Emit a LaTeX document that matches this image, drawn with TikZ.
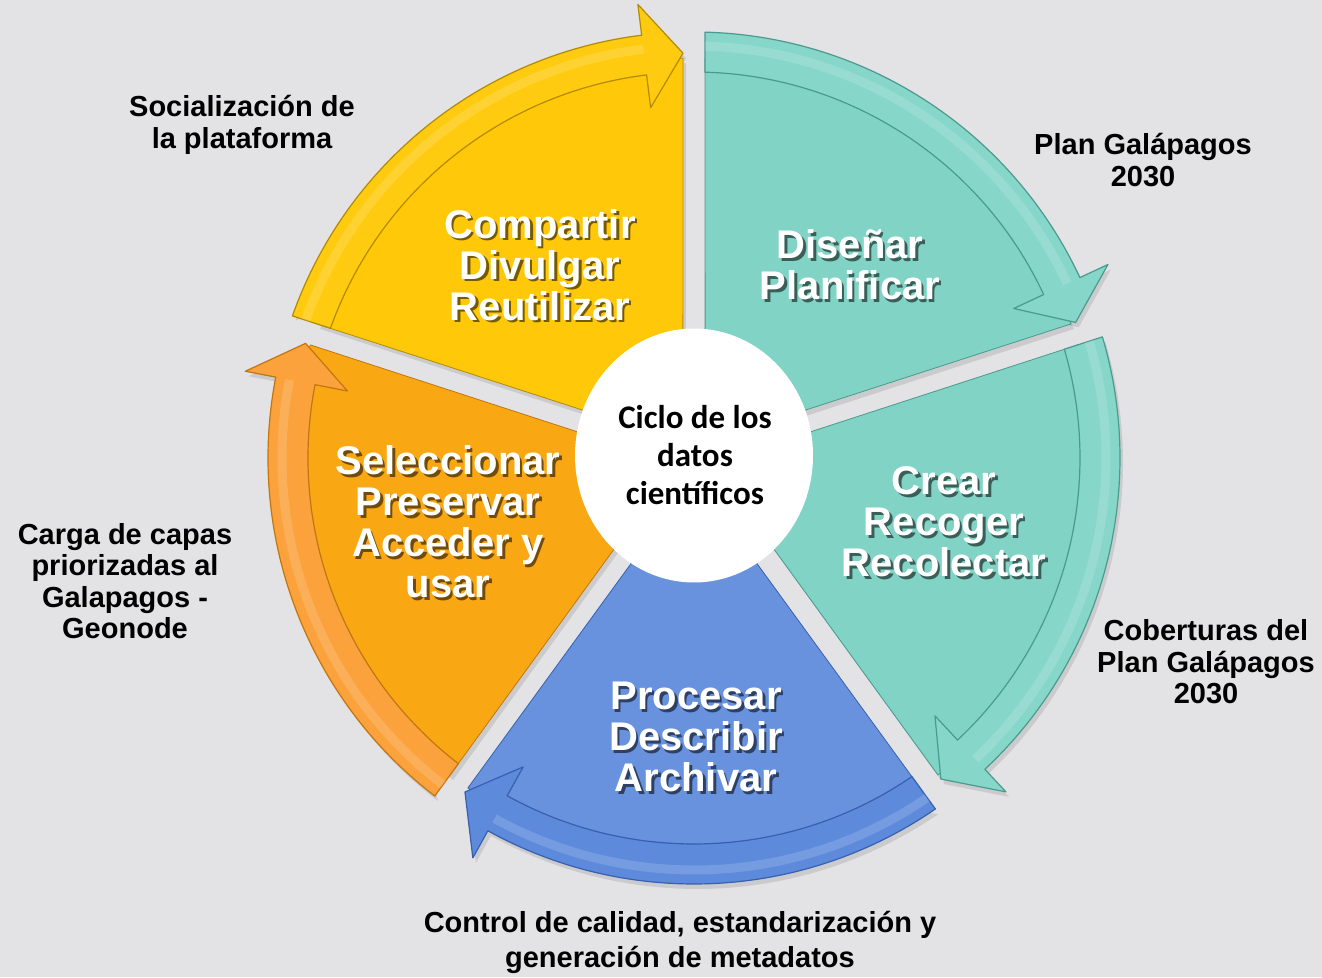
\documentclass[tikz,border=0pt]{standalone}
\usepackage{fontspec}
\setmainfont{Liberation Sans}
\newfontfamily\centrefont{Carlito}
\usetikzlibrary{calc}
\definecolor{bg}{HTML}{E3E3E5}
\definecolor{yBody}{HTML}{FFC808}
\definecolor{yBand}{HTML}{FFCB10}
\definecolor{yLine}{HTML}{B38A00}
\definecolor{tBody}{HTML}{80D3C5}
\definecolor{tBand}{HTML}{86D7CA}
\definecolor{tLine}{HTML}{4A9A8E}
\definecolor{bBody}{HTML}{6892DE}
\definecolor{bBand}{HTML}{5D8ADB}
\definecolor{bLine}{HTML}{3760AE}
\definecolor{oBody}{HTML}{F9A814}
\definecolor{oBand}{HTML}{FBA23C}
\definecolor{oLine}{HTML}{C27510}
\tikzset{
  seglabel/.style={align=center, text=white, font=\bfseries\fontsize{40}{41}\selectfont, inner sep=0pt},
  segshadow/.style={align=center, text=black, opacity=0.55, font=\bfseries\fontsize{40}{41}\selectfont, inner sep=0pt},
  sidelabel/.style={align=center, text=black, font=\bfseries\fontsize{29}{31.5}\selectfont, inner sep=0pt},
  centrelabel/.style={align=center, text=black, font=\centrefont\bfseries\fontsize{33}{38}\selectfont, inner sep=0pt}
}
% #1 head-end angle, #2 tail-end angle, #3 body, #4 band, #5 line
\newcommand\cycseg[5]{%
  \pgfmathsetmacro\bodyA{#1+asin(11/400)}%
  \pgfmathsetmacro\bodyB{#2-asin(11/400)}%
  \pgfmathsetmacro\tipA{#1+asin(11/405)}%
  \pgfmathsetmacro\headB{\tipA+5.5}%
  \pgfmathsetmacro\tailO{#2-asin(11/426)}%
  \pgfmathsetmacro\tailI{#2-asin(11/386)}%
  \pgfmathsetmacro\tailM{#2-asin(11/408)}%
  \pgfmathsetmacro\midA{(#1+#2)/2}%
  \fill[black,opacity=0.10,shift={(3pt,-5pt)}] (\midA:19pt) -- (\bodyA:400pt) arc[start angle=\bodyA, end angle=\bodyB, radius=400pt] -- cycle;
  \fill[black,opacity=0.10,shift={(3pt,-5pt)}] (\tailO:426pt) arc[start angle=\tailO, end angle=\headB, radius=426pt] -- (\headB:457pt) -- (\tipA:405pt) -- (\headB:353pt) -- cycle;
  \filldraw[fill=#3, draw=#5, line width=0.8pt, line join=round] (\midA:19pt) -- (\bodyA:400pt) arc[start angle=\bodyA, end angle=\bodyB, radius=400pt] -- cycle;
  \filldraw[fill=#4, draw=#5, line width=1.2pt, line join=round] (\tailO:426pt) arc[start angle=\tailO, end angle=\headB, radius=426pt] -- (\headB:457pt) -- (\tipA:405pt) -- (\headB:353pt) -- (\headB:386pt) arc[start angle=\headB, end angle=\tailI, radius=386pt] -- cycle;
  \draw[white, opacity=0.15, line width=9pt] (\tailM:412pt) arc[start angle=\tailM, end angle=\headB, radius=412pt];
}
\newcommand\seglab[3]{%
  \node[segshadow] at ($(#2)+(2.5,-2.5)$) {#3};
  \node[seglabel] (#1) at (#2) {#3};
}
\begin{document}
\begin{tikzpicture}[x=1pt,y=1pt]
\fill[bg] (0,0) rectangle (1322,977);
\useasboundingbox (0,0) rectangle (1322,977);
\begin{scope}[shift={(694,519)}]
  \cycseg{90}{162}{yBody}{yBand}{yLine}
  \cycseg{18}{90}{tBody}{tBand}{tLine}
  \cycseg{-54}{18}{tBody}{tBand}{tLine}
  \cycseg{-126}{-54}{bBody}{bBand}{bLine}
  \cycseg{162}{234}{oBody}{oBand}{oLine}
  \fill[white] (0,2.5) ellipse[x radius=119pt, y radius=127pt];
\end{scope}
\node[centrelabel] (centre) at (695,522) {Ciclo de los\\datos\\científicos};
\seglab{share}{540,712}{Compartir\\Divulgar\\Reutilizar}
\seglab{design}{850,712}{Diseñar\\Planificar}
\seglab{create}{944,455}{Crear\\Recoger\\Recolectar}
\seglab{process}{696,240}{Procesar\\Describir\\Archivar}
\seglab{select}{448,455}{Seleccionar\\Preservar\\Acceder y\\usar}
\node[sidelabel] (soc) at (242,852) {Socialización de\\la plataforma};
\node[sidelabel] (plan) at (1143,817) {Plan Galápagos\\2030};
\node[sidelabel] (cob) at (1206,315) {Coberturas del\\Plan Galápagos\\2030};
\node[sidelabel, font=\bfseries\fontsize{29}{35}\selectfont] (ctrl) at (680,35) {Control de calidad, estandarización y\\generación de metadatos};
\node[sidelabel] (carga) at (125,396) {Carga de capas\\priorizadas al\\Galapagos -\\Geonode};
\end{tikzpicture}
\end{document}
